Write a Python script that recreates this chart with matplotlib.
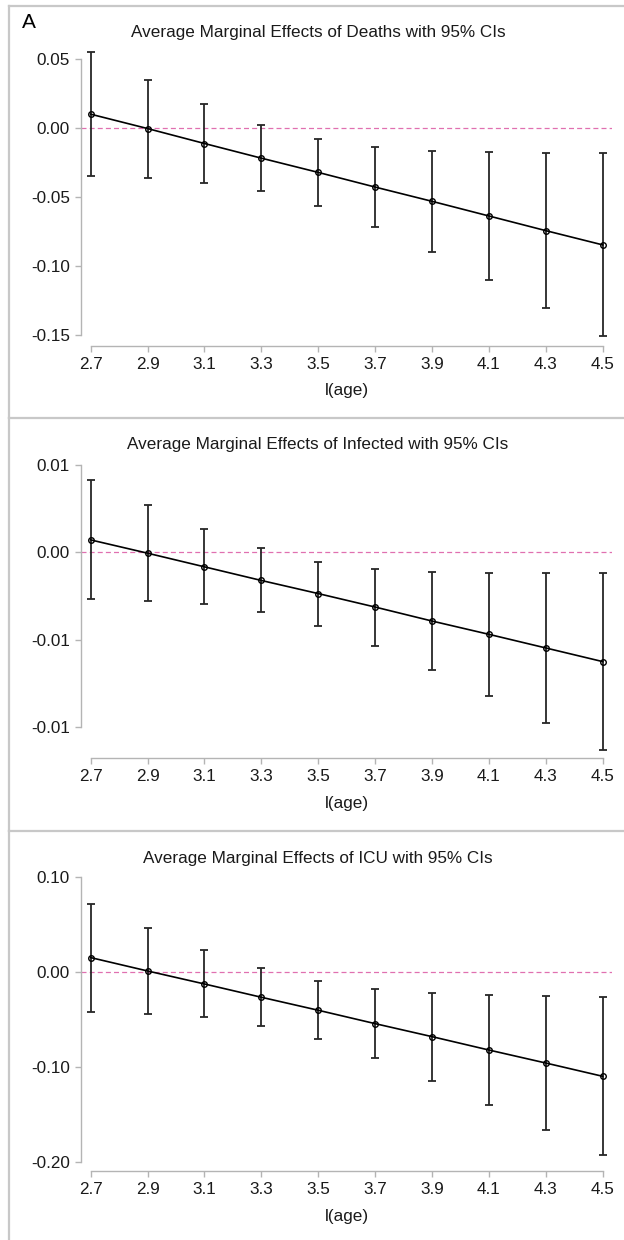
import numpy as np
import matplotlib
matplotlib.use('Agg')
import matplotlib.pyplot as plt
from matplotlib.lines import Line2D

plt.rcParams['font.family'] = ['Liberation Sans', 'DejaVu Sans']
plt.rcParams['axes.unicode_minus'] = False

ages = [2.7, 2.9, 3.1, 3.3, 3.5, 3.7, 3.9, 4.1, 4.3, 4.5]
age_ticks = ['2.7', '2.9', '3.1', '3.3', '3.5', '3.7', '3.9', '4.1', '4.3', '4.5']

deaths_me = [0.0099, -0.0005, -0.0113, -0.0219, -0.0322, -0.0428, -0.0531, -0.0637, -0.0743, -0.0846]
deaths_lo = [-0.0351, -0.0366, -0.0395, -0.0455, -0.0563, -0.0717, -0.0900, -0.1097, -0.1300, -0.1508]
deaths_hi = [0.0546, 0.0349, 0.0171, 0.0022, -0.0080, -0.0135, -0.0164, -0.0176, -0.0180, -0.0181]

infected_me = [0.00072, -0.00004, -0.00082, -0.0016, -0.00235, -0.00312, -0.00392, -0.00468, -0.00546, -0.00624]
infected_lo = [-0.00267, -0.00277, -0.00296, -0.0034, -0.00418, -0.00535, -0.00672, -0.00821, -0.00974, -0.0113]
infected_hi = [0.00414, 0.00269, 0.00135, 0.00023, -0.00053, -0.00094, -0.00111, -0.00118, -0.00118, -0.00118]

icu_me = [0.0151, 0.0010, -0.0127, -0.0267, -0.0404, -0.0545, -0.0682, -0.0823, -0.0960, -0.1100]
icu_lo = [-0.0422, -0.0443, -0.0478, -0.0566, -0.0707, -0.0910, -0.1147, -0.1400, -0.1664, -0.1934]
icu_hi = [0.0720, 0.0467, 0.0235, 0.0039, -0.0098, -0.0176, -0.0218, -0.0239, -0.0253, -0.0264]

W, H = 624, 1240
fig = plt.figure(figsize=(W / 100, H / 100), dpi=100)

border = '#c8c8c8'
spine = '#b4b4b4'

# panel frames (top, left, bottom)
for top, bot in [(6, 418), (418, 831), (831, 1250)]:
    fig.add_artist(Line2D([9 / W, 1.0], [1 - top / H, 1 - top / H], color=border, lw=1.6))
    fig.add_artist(Line2D([9 / W, 9 / W], [1 - top / H, 1 - bot / H], color=border, lw=1.6))


def panel(name, me, lo, hi, ticks, ylim, top_px, bot_px, title_px):
    ax = fig.add_axes([81 / W, 1 - bot_px / H, 531 / W, (bot_px - top_px) / H])
    ax.set_xlim(2.6659, 4.5327)
    ax.set_ylim(*ylim)
    ax.axhline(0, color='#e070b0', lw=0.9, ls=(0, (4, 2.5)), zorder=1)
    me = np.array(me)
    err = [me - np.array(lo), np.array(hi) - me]
    ax.errorbar(ages, me, yerr=err, fmt='none', ecolor='#262626', elinewidth=1.3,
                capsize=3, capthick=1.3, zorder=2)
    ax.plot(ages, me, '-', color='black', lw=1.2, zorder=3)
    ax.plot(ages, me, 'o', mfc='none', mec='black', ms=4, mew=1.0, zorder=4)
    ax.set_xticks(ages)
    ax.set_xticklabels(age_ticks)
    ax.set_yticks(ticks)
    ax.set_yticklabels(['%.2f' % t for t in ticks])
    for s in ['top', 'right']:
        ax.spines[s].set_visible(False)
    ax.spines['left'].set_bounds(min(ticks), max(ticks))
    ax.spines['bottom'].set_bounds(2.7, 4.5)
    for s in ['left', 'bottom']:
        ax.spines[s].set_color(spine)
        ax.spines[s].set_linewidth(1.0)
    ax.tick_params(axis='both', color=spine, length=4, width=1.0, labelsize=12.3,
                   labelcolor='#1a1a1a')
    ax.tick_params(axis='x', pad=4)
    ax.tick_params(axis='y', pad=4)
    ax.set_xlabel('l(age)', fontsize=12.3, color='#1a1a1a', labelpad=8)
    ax.patch.set_alpha(0)
    fig.text(318 / W, 1 - title_px / H, 'Average Marginal Effects of ' + name + ' with 95% CIs',
             ha='center', va='center', fontsize=12.3, color='#1a1a1a')
    return ax


panel('Deaths', deaths_me, deaths_lo, deaths_hi, [0.05, 0.0, -0.05, -0.10, -0.15],
      (-0.1577, 0.0563), 50, 346, 32)
panel('Infected', infected_me, infected_lo, infected_hi, [0.005, 0.0, -0.005, -0.01],
      (-0.01177, 0.00529), 460, 758.3, 445)
panel('ICU', icu_me, icu_lo, icu_hi, [0.10, 0.0, -0.10, -0.20],
      (-0.2101, 0.1053), 872, 1171.3, 858)

fig.text(22 / W, 1 - 22 / H, 'A', ha='left', va='center', fontsize=15, color='black')

fig.savefig('out.png', dpi=100)
